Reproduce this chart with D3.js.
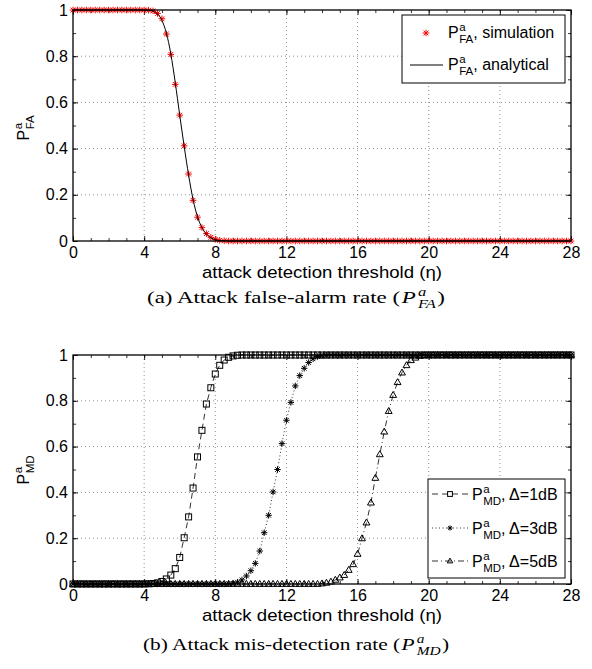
<!DOCTYPE html>
<html>
<head>
<meta charset="utf-8">
<script src="https://cdn.jsdelivr.net/npm/d3@7/dist/d3.min.js"></script>
<style>
  body { margin: 0; background: #fff; }
  svg { display: block; }
</style>
</head>
<body>
<svg width="592" height="669"></svg>
<script>
// attack detection threshold grid, 0..28 in steps of 0.25
const eta = d3.range(0, 28.001, 0.25);

const xTicks = [0, 4, 8, 12, 16, 20, 24, 28];
const yTicks = [0, 0.2, 0.4, 0.6, 0.8, 1];
const yTickLabels = ['0', '0.2', '0.4', '0.6', '0.8', '1'];

// (a) false alarm, one row = 4 units of eta
const pfaSim = [
  1,1,1,1,1,1,1,1,1,1,1,1,1,1,1,1,
  1,0.999,0.996,0.985,0.962,0.896,0.808,0.678,0.545,0.412,0.290,0.176,0.103,0.058,0.032,0.016,
  0.007,0.003,0.001,0,0,0,0,0,0,0,0,0,0,0,0,0,
  0,0,0,0,0,0,0,0,0,0,0,0,0,0,0,0,
  0,0,0,0,0,0,0,0,0,0,0,0,0,0,0,0,
  0,0,0,0,0,0,0,0,0,0,0,0,0,0,0,0,
  0,0,0,0,0,0,0,0,0,0,0,0,0,0,0,0,
  0
];
const pfaAna = [
  1,1,1,1,1,1,1,1,1,1,1,1,1,1,1,1,
  1,0.999,0.995,0.983,0.955,0.900,0.810,0.685,0.545,0.410,0.285,0.180,0.105,0.058,0.030,0.014,
  0.006,0.002,0.001,0,0,0,0,0,0,0,0,0,0,0,0,0,
  0,0,0,0,0,0,0,0,0,0,0,0,0,0,0,0,
  0,0,0,0,0,0,0,0,0,0,0,0,0,0,0,0,
  0,0,0,0,0,0,0,0,0,0,0,0,0,0,0,0,
  0,0,0,0,0,0,0,0,0,0,0,0,0,0,0,0,
  0
];

// (b) mis-detection
const pmd1 = [
  0,0,0,0,0,0,0,0,0,0,0,0,0,0,0,0,
  0,0.001,0.002,0.005,0.011,0.022,0.039,0.067,0.116,0.202,0.293,0.419,0.555,0.671,0.786,0.857,
  0.917,0.955,0.978,0.990,0.996,0.999,1,1,1,1,1,1,1,1,1,1,
  1,1,1,1,1,1,1,1,1,1,1,1,1,1,1,1,
  1,1,1,1,1,1,1,1,1,1,1,1,1,1,1,1,
  1,1,1,1,1,1,1,1,1,1,1,1,1,1,1,1,
  1,1,1,1,1,1,1,1,1,1,1,1,1,1,1,1,
  1
];
const pmd3 = [
  0,0,0,0,0,0,0,0,0,0,0,0,0,0,0,0,
  0,0,0,0,0,0,0,0,0,0,0,0,0,0,0,0,
  0,0,0,0.001,0.003,0.008,0.018,0.035,0.058,0.090,0.144,0.224,0.300,0.402,0.500,0.613,
  0.715,0.793,0.865,0.910,0.942,0.967,0.983,0.993,0.997,0.999,1,1,1,1,1,1,
  1,1,1,1,1,1,1,1,1,1,1,1,1,1,1,1,
  1,1,1,1,1,1,1,1,1,1,1,1,1,1,1,1,
  1,1,1,1,1,1,1,1,1,1,1,1,1,1,1,1,
  1
];
const pmd5 = [
  0,0,0,0,0,0,0,0,0,0,0,0,0,0,0,0,
  0,0,0,0,0,0,0,0,0,0,0,0,0,0,0,0,
  0,0,0,0,0,0,0,0,0,0,0,0,0,0,0,0,
  0,0,0,0,0,0,0,0,0.002,0.005,0.010,0.018,0.028,0.039,0.061,0.086,
  0.131,0.199,0.268,0.355,0.463,0.566,0.665,0.755,0.825,0.881,0.923,0.955,0.977,0.988,0.996,0.999,
  1,1,1,1,1,1,1,1,1,1,1,1,1,1,1,1,
  1,1,1,1,1,1,1,1,1,1,1,1,1,1,1,1,
  1
];

const svg = d3.select('svg');
const sans = '"Liberation Sans", Arial, Helvetica, sans-serif';
const serif = '"Liberation Serif", "Times New Roman", serif';

const left = 73, right = 571;

// marker shapes
const starPath = r => {
  const a = r * 0.72;
  return `M${-r},0L${r},0M0,${-r}L0,${r}M${-a},${-a}L${a},${a}M${-a},${a}L${a},${-a}`;
};
const triPath = r => `M0,${-r}L${r * 0.95},${r * 0.65}L${-r * 0.95},${r * 0.65}Z`;

function drawMarker(g, kind, cx, cy, color, r) {
  if (kind === 'star') {
    g.append('path').attr('d', starPath(r)).attr('transform', `translate(${cx},${cy})`)
      .attr('stroke', color).attr('stroke-width', 1).attr('fill', 'none');
  } else if (kind === 'square') {
    g.append('rect').attr('x', cx - r).attr('y', cy - r).attr('width', 2 * r).attr('height', 2 * r)
      .attr('stroke', color).attr('stroke-width', 1).attr('fill', 'none');
  } else if (kind === 'tri') {
    g.append('path').attr('d', triPath(r)).attr('transform', `translate(${cx},${cy})`)
      .attr('stroke', color).attr('stroke-width', 1).attr('fill', 'none');
  }
}

// P with stacked superscript / subscript, then the rest
function pText(g, x, y, o) {
  const size = o.size, small = size * 0.72;
  const fam = o.family || sans;
  const st = o.italic ? 'italic' : 'normal';
  const p = g.append('text').attr('x', x).attr('y', y)
    .style('font-family', fam).style('font-size', size + 'px').style('font-style', st).text('P');
  const w = p.node().getComputedTextLength() + (o.italic ? 1.5 : 0.5);
  const sp = g.append('text').attr('x', x + w).attr('y', y - size * 0.42)
    .style('font-family', fam).style('font-size', small + 'px').style('font-style', st).text(o.sup);
  const sb = g.append('text').attr('x', x + w).attr('y', y + size * 0.32)
    .style('font-family', fam).style('font-size', small + 'px').style('font-style', st).text(o.sub);
  const w2 = Math.max(sp.node().getComputedTextLength(), sb.node().getComputedTextLength());
  let end = x + w + w2;
  if (o.rest) {
    const r = g.append('text').attr('x', end).attr('y', y)
      .style('font-family', fam).style('font-size', size + 'px').text(o.rest);
    end += r.node().getComputedTextLength();
  }
  return end;
}

function panel(top, bottom, yLab) {
  const x = d3.scaleLinear().domain([0, 28]).range([left, right]);
  const y = d3.scaleLinear().domain([0, 1]).range([bottom, top]);
  const g = svg.append('g');

  // dotted grid
  const grid = g.append('g').attr('stroke', '#444').attr('stroke-width', 0.6).attr('stroke-dasharray', '1,3');
  xTicks.slice(1, -1).forEach(t => grid.append('line')
    .attr('x1', x(t)).attr('x2', x(t)).attr('y1', top).attr('y2', bottom));
  yTicks.slice(1, -1).forEach(t => grid.append('line')
    .attr('x1', left).attr('x2', right).attr('y1', y(t)).attr('y2', y(t)));

  // ticks inside on every side (major + minor)
  const minorX = d3.range(0, 29), minorY = d3.range(0, 1.001, 0.1);
  g.append('g').attr('transform', `translate(0,${bottom})`)
    .call(d3.axisBottom(x).tickValues(xTicks).tickSize(-5).tickSizeOuter(0).tickPadding(6).tickFormat(d3.format('d')));
  g.append('g').attr('transform', `translate(0,${bottom})`)
    .call(d3.axisBottom(x).tickValues(minorX).tickSize(-3).tickSizeOuter(0).tickFormat(''));
  g.append('g').attr('transform', `translate(0,${top})`)
    .call(d3.axisTop(x).tickValues(xTicks).tickSize(-5).tickSizeOuter(0).tickFormat(''));
  g.append('g').attr('transform', `translate(0,${top})`)
    .call(d3.axisTop(x).tickValues(minorX).tickSize(-3).tickSizeOuter(0).tickFormat(''));
  g.append('g').attr('transform', `translate(${left},0)`)
    .call(d3.axisLeft(y).tickValues(yTicks).tickSize(-5).tickSizeOuter(0).tickPadding(5)
      .tickFormat((d, i) => yTickLabels[i]));
  g.append('g').attr('transform', `translate(${left},0)`)
    .call(d3.axisLeft(y).tickValues(minorY).tickSize(-3).tickSizeOuter(0).tickFormat(''));
  g.append('g').attr('transform', `translate(${right},0)`)
    .call(d3.axisRight(y).tickValues(yTicks).tickSize(-5).tickSizeOuter(0).tickFormat(''));
  g.append('g').attr('transform', `translate(${right},0)`)
    .call(d3.axisRight(y).tickValues(minorY).tickSize(-3).tickSizeOuter(0).tickFormat(''));
  g.selectAll('.domain').remove();
  g.selectAll('.tick line').attr('stroke', '#000').attr('stroke-width', 0.8);
  g.selectAll('.tick text').style('font-family', sans).style('font-size', '16px').attr('fill', '#000');

  // x label (stretched a bit, like the reference)
  g.append('text').attr('x', (left + right) / 2).attr('y', bottom + 37)
    .attr('text-anchor', 'middle').style('font-family', sans).style('font-size', '17px')
    .attr('textLength', 240).attr('lengthAdjust', 'spacingAndGlyphs')
    .text('attack detection threshold (η)');

  // y label, rotated
  const yl = g.append('g').attr('transform', `translate(29,${(top + bottom) / 2 + 15}) rotate(-90)`);
  pText(yl, 0, 0, { size: 16, sup: 'a', sub: yLab });

  const plot = g.append('g');
  return { x, y, plot, g };
}

// ---------- (a) ----------
const A = panel(10, 241, 'FA');
pfaSim.forEach((v, i) => drawMarker(A.plot, 'star', A.x(eta[i]), A.y(v), '#f00', 3.3));
A.plot.append('path')
  .datum(pfaAna)
  .attr('d', d3.line().x((d, i) => A.x(eta[i])).y(d => A.y(d)).curve(d3.curveMonotoneX))
  .attr('fill', 'none').attr('stroke', '#000').attr('stroke-width', 1);
A.g.append('rect').attr('x', left).attr('y', 10).attr('width', right - left).attr('height', 231)
  .attr('fill', 'none').attr('stroke', '#000').attr('stroke-width', 1.3);

// legend (a)
const la = svg.append('g');
la.append('rect').attr('x', 402).attr('y', 15).attr('width', 163).attr('height', 68)
  .attr('fill', '#fff').attr('stroke', '#000').attr('stroke-width', 1);
drawMarker(la, 'star', 426, 33, '#f00', 3.3);
pText(la, 448, 38, { size: 16, sup: 'a', sub: 'FA', rest: ', simulation' });
la.append('line').attr('x1', 410).attr('x2', 443).attr('y1', 65).attr('y2', 65)
  .attr('stroke', '#000').attr('stroke-width', 1);
pText(la, 448, 70, { size: 16, sup: 'a', sub: 'FA', rest: ', analytical' });

// captions, stretched horizontally to the reference width
function caption(yPos, label, sub, target) {
  const c = svg.append('g');
  const inner = c.append('g');
  const t = inner.append('text').attr('x', 0).attr('y', 0)
    .style('font-family', serif).style('font-size', '16px').text(label);
  let end = t.node().getComputedTextLength() + 1;
  end = pText(inner, end, 0, { size: 16, family: serif, italic: true, sup: 'a', sub: sub });
  inner.append('text').attr('x', end + 1).attr('y', 0)
    .style('font-family', serif).style('font-size', '16px').text(')');
  const bb = inner.node().getBBox();
  c.attr('transform', `translate(${296 - target / 2},${yPos}) scale(${target / bb.width},1)`);
}
caption(303, '(a)  Attack false-alarm rate (', 'FA', 298);

// ---------- (b) ----------
const B = panel(355, 584, 'MD');
const mdSeries = [
  { vals: pmd1, marker: 'square', r: 3, dash: '6,4' },
  { vals: pmd3, marker: 'star', r: 3.2, dash: '1,2.5' },
  { vals: pmd5, marker: 'tri', r: 3.6, dash: '6,3,1,3' }
];
const lineB = d3.line().x((d, i) => B.x(eta[i])).y(d => B.y(d));
mdSeries.forEach(s => {
  B.plot.append('path').datum(s.vals).attr('d', lineB)
    .attr('fill', 'none').attr('stroke', '#000').attr('stroke-width', 0.8).attr('stroke-dasharray', s.dash);
  s.vals.forEach((v, i) => drawMarker(B.plot, s.marker, B.x(eta[i]), B.y(v), '#000', s.r));
});
B.g.append('rect').attr('x', left).attr('y', 355).attr('width', right - left).attr('height', 229)
  .attr('fill', 'none').attr('stroke', '#000').attr('stroke-width', 1.3);

// legend (b)
const lb = svg.append('g');
lb.append('rect').attr('x', 428).attr('y', 479).attr('width', 137).attr('height', 99)
  .attr('fill', '#fff').attr('stroke', '#000').attr('stroke-width', 1);
const legB = [
  { label: ', Δ=1dB', cy: 494 },
  { label: ', Δ=3dB', cy: 528 },
  { label: ', Δ=5dB', cy: 561 }
];
legB.forEach((e, k) => {
  const s = mdSeries[k];
  lb.append('line').attr('x1', 432).attr('x2', 468).attr('y1', e.cy).attr('y2', e.cy)
    .attr('stroke', '#000').attr('stroke-width', 0.8).attr('stroke-dasharray', s.dash);
  drawMarker(lb, s.marker, 450, e.cy, '#000', s.r * 0.8);
  pText(lb, 472, e.cy + 6, { size: 16, sup: 'a', sub: 'MD', rest: e.label });
});

caption(650, '(b) Attack mis-detection rate (', 'MD', 306);
</script>
</body>
</html>
